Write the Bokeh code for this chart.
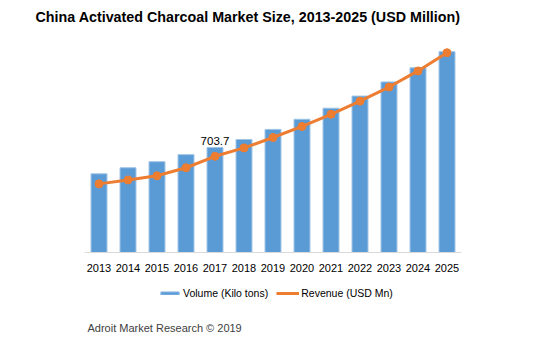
from bokeh.plotting import figure
from bokeh.models import Range1d, Legend, LegendItem, Label, ColumnDataSource
from bokeh.core.properties import value
from bokeh.embed import file_html
from bokeh.resources import INLINE

years = ["2013", "2014", "2015", "2016", "2017", "2018", "2019",
         "2020", "2021", "2022", "2023", "2024", "2025"]
volume = [78, 84, 90, 97, 104, 112, 122, 132, 143, 155, 169, 183, 199]
revenue = [502, 531, 561, 620, 703.7, 765, 841, 922, 1011, 1107, 1210, 1328, 1461]
label_year = ["2017"]
label_value = [703.7]
label_text = ["703.7"]

FONT = "Liberation Sans"
REV_SCALE = 7.38
Y_LO, Y_HI = -106, 219

p = figure(width=539, height=359, x_range=years, y_range=Range1d(Y_LO, Y_HI),
           output_backend="svg", toolbar_location=None,
           min_border_left=84, min_border_right=78, min_border_top=0, min_border_bottom=0)
p.extra_y_ranges = {"rev": Range1d(Y_LO * REV_SCALE, Y_HI * REV_SCALE)}

p.outline_line_color = None
p.background_fill_color = "white"
p.border_fill_color = "white"
p.xgrid.grid_line_color = None
p.ygrid.grid_line_color = None
p.yaxis.visible = False

p.xaxis.fixed_location = 0
p.xaxis.axis_line_color = "#D9D9D9"
p.xaxis.axis_line_width = 1
p.xaxis.major_tick_line_color = None
p.xaxis.minor_tick_line_color = None
p.xaxis.major_label_text_font = FONT
p.xaxis.major_label_text_font_size = "11px"
p.xaxis.major_label_text_color = "#000000"
p.xaxis.major_label_standoff = 5
p.x_range.range_padding = 0

p.title.text = "China Activated Charcoal Market Size, 2013-2025 (USD Million)"
p.title.align = "left"
p.title.offset = -49
p.title.standoff = 13
p.title.text_font = FONT
p.title.text_font_style = "bold"
p.title.text_font_size = "14.3px"
p.title.text_color = "#000000"

src = ColumnDataSource(dict(x=years, v=volume, r=revenue))
bars = p.vbar(x="x", top="v", bottom=0, width=0.55, source=src, fill_color="#5B9BD5",
              line_color="#9DC3E6", line_width=1)
ln = p.line(x="x", y="r", source=src, y_range_name="rev", line_color="#ED7D31", line_width=3)
pts = p.scatter(x="x", y="r", source=src, y_range_name="rev", size=8,
                fill_color="#ED7D31", line_color="#ED7D31")

lsrc = ColumnDataSource(dict(x=label_year, y=label_value, t=label_text))
p.text(x="x", y="y", text="t", source=lsrc, y_range_name="rev", y_offset=-11,
       text_align="center", text_baseline="bottom", text_font=value(FONT),
       text_font_size="11.5px", text_color="#000000")

legend = Legend(items=[LegendItem(label="Volume (Kilo tons)", renderers=[bars]),
                       LegendItem(label="Revenue (USD Mn)", renderers=[ln, pts])],
                orientation="horizontal", location=(74, 56),
                glyph_width=23, glyph_height=4, label_standoff=2, spacing=8,
                padding=0, margin=0, border_line_color=None, background_fill_alpha=0,
                label_text_font=FONT, label_text_font_size="10.5px",
                label_text_color="#000000", label_height=20)
p.add_layout(legend)

p.add_layout(Label(x=3, y=32, x_units="screen", y_units="screen",
                   text="Adroit Market Research \u00a9 2019",
                   text_align="left", text_baseline="middle",
                   text_font=FONT, text_font_size="11px", text_color="#404040"))

open("out.html", "w").write(file_html(p, INLINE))
